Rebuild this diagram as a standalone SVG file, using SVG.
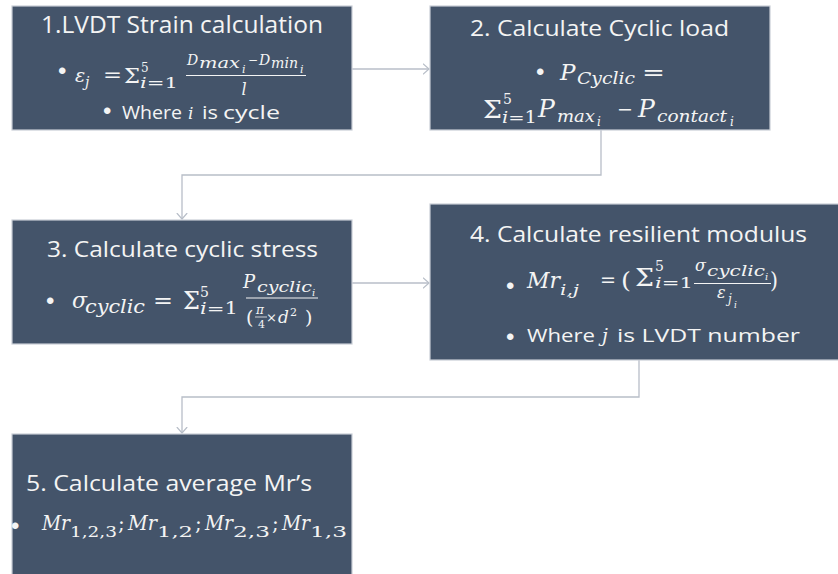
<svg xmlns="http://www.w3.org/2000/svg" width="838" height="574" viewBox="0 0 838 574">
  <style>
    .box { fill: #44546a; stroke: #c9ced6; stroke-width: 1.2; }
    .hd { font-family: "Open Sans", "Noto Sans", "Liberation Sans", sans-serif; fill: #f4f4f4; }
    .bl { font-family: "Liberation Sans", Arial, sans-serif; font-size: 24px; fill: #f4f4f4; }
    .m { font-family: "DejaVu Serif", "Liberation Serif", serif; font-style: italic; fill: #f4f4f4; }
    .u { font-family: "DejaVu Serif", "Liberation Serif", serif; font-style: normal; fill: #f4f4f4; }
    .bar { stroke: #f4f4f4; stroke-width: 1.2; }
    .link { fill: none; stroke: #b8bec8; stroke-width: 1.3; }
  </style>
  <defs>
    <marker id="arrow" viewBox="0 0 7 12" refX="6.5" refY="6" markerWidth="7" markerHeight="12" markerUnits="userSpaceOnUse" orient="auto">
      <path d="M0.5,0.8 L6.5,6 L0.5,11.2" fill="none" stroke="#b8bec8" stroke-width="1.2"/>
    </marker>
  </defs>
  <rect width="838" height="574" fill="#ffffff"/>

  <!-- connectors -->
  <g id="connectors">
    <path class="link" d="M352,69 H429" marker-end="url(#arrow)"/>
    <path class="link" d="M601,130 V175 H182 V219" marker-end="url(#arrow)"/>
    <path class="link" d="M352,283 H429" marker-end="url(#arrow)"/>
    <path class="link" d="M639,360 V397 H182 V433" marker-end="url(#arrow)"/>
  </g>

  <!-- step 1: LVDT strain -->
  <g id="step1">
    <rect class="box" x="12" y="6" width="340" height="124"/>
    <text class="hd" x="41" y="33" font-size="23" textLength="282" lengthAdjust="spacingAndGlyphs">1.LVDT Strain calculation</text>
    <text class="bl" x="58" y="78.5">•</text>
    <text class="m" x="75" y="82" font-size="19">ε</text>
    <text class="m" x="85" y="87" font-size="14">j</text>
    <text class="u" x="103" y="82" font-size="20" textLength="19" lengthAdjust="spacingAndGlyphs">=</text>
    <text class="u" x="124" y="83" font-size="21" textLength="16" lengthAdjust="spacingAndGlyphs">Σ</text>
    <text class="u" x="141" y="72" font-size="12">5</text>
    <text class="u" x="140" y="88" font-size="15" textLength="38" lengthAdjust="spacingAndGlyphs"><tspan class="m">i</tspan>=1</text>
    <text class="m" x="187" y="65" font-size="14">D</text>
    <text class="m" x="199" y="68" font-size="15" textLength="41" lengthAdjust="spacingAndGlyphs">max</text>
    <text class="m" x="242" y="73" font-size="11">i</text>
    <text class="u" x="248" y="64" font-size="12" textLength="10" lengthAdjust="spacingAndGlyphs">−</text>
    <text class="m" x="259" y="65" font-size="14">D</text>
    <text class="m" x="271" y="68" font-size="15" textLength="27" lengthAdjust="spacingAndGlyphs">min</text>
    <text class="m" x="300" y="73" font-size="11">i</text>
    <line class="bar" x1="186" y1="75.5" x2="306" y2="75.5"/>
    <text class="m" x="244" y="95" font-size="16" text-anchor="middle">l</text>
    <text class="bl" x="103" y="119">•</text>
    <text class="hd" x="122" y="119" font-size="18" textLength="60" lengthAdjust="spacingAndGlyphs">Where</text>
    <text class="m" x="188" y="119" font-size="17">i</text>
    <text class="hd" x="202" y="119" font-size="18" textLength="16" lengthAdjust="spacingAndGlyphs">is</text>
    <text class="hd" x="223" y="119" font-size="18" textLength="57" lengthAdjust="spacingAndGlyphs">cycle</text>
  </g>

  <!-- step 2: cyclic load -->
  <g id="step2">
    <rect class="box" x="430" y="6" width="340" height="124"/>
    <text class="hd" x="470" y="36" font-size="22" textLength="259" lengthAdjust="spacingAndGlyphs">2. Calculate Cyclic load</text>
    <text class="bl" x="536" y="79.5">•</text>
    <text class="m" x="560" y="80" font-size="23">P</text>
    <text class="m" x="577" y="84" font-size="16" textLength="58" lengthAdjust="spacingAndGlyphs">Cyclic</text>
    <text class="u" x="642" y="80" font-size="23" textLength="23" lengthAdjust="spacingAndGlyphs">=</text>
    <text class="u" x="483" y="118" font-size="25" textLength="19" lengthAdjust="spacingAndGlyphs">Σ</text>
    <text class="u" x="503" y="104" font-size="14">5</text>
    <text class="u" x="502" y="123" font-size="16" textLength="35" lengthAdjust="spacingAndGlyphs"><tspan class="m">i</tspan>=1</text>
    <text class="m" x="538" y="117" font-size="25">P</text>
    <text class="m" x="557" y="122" font-size="17" textLength="38" lengthAdjust="spacingAndGlyphs">max</text>
    <text class="m" x="597" y="126" font-size="12">i</text>
    <text class="u" x="617" y="116" font-size="20" textLength="16" lengthAdjust="spacingAndGlyphs">−</text>
    <text class="m" x="638" y="117" font-size="25">P</text>
    <text class="m" x="657" y="122" font-size="17" textLength="70" lengthAdjust="spacingAndGlyphs">contact</text>
    <text class="m" x="730" y="126" font-size="12">i</text>
  </g>

  <!-- step 3: cyclic stress -->
  <g id="step3">
    <rect class="box" x="12" y="220" width="340" height="124"/>
    <text class="hd" x="47" y="257" font-size="22" textLength="271" lengthAdjust="spacingAndGlyphs">3. Calculate cyclic stress</text>
    <text class="bl" x="46" y="308.5">•</text>
    <text class="m" x="72" y="308" font-size="22">σ</text>
    <text class="m" x="85" y="313" font-size="18" textLength="60" lengthAdjust="spacingAndGlyphs">cyclic</text>
    <text class="u" x="153" y="308" font-size="23" textLength="20" lengthAdjust="spacingAndGlyphs">=</text>
    <text class="u" x="183" y="309" font-size="25" textLength="17" lengthAdjust="spacingAndGlyphs">Σ</text>
    <text class="u" x="200" y="297" font-size="14">5</text>
    <text class="u" x="200" y="314" font-size="16" textLength="38" lengthAdjust="spacingAndGlyphs"><tspan class="m">i</tspan>=1</text>
    <text class="m" x="243" y="288" font-size="18">P</text>
    <text class="m" x="257" y="292" font-size="15" textLength="55" lengthAdjust="spacingAndGlyphs">cyclic</text>
    <text class="m" x="312" y="296" font-size="10">i</text>
    <line class="bar" x1="246" y1="298" x2="318" y2="298"/>
    <text class="u" x="246" y="324" font-size="19">(</text>
    <text class="m" x="256" y="314" font-size="12">π</text>
    <line x1="255" y1="317" x2="267" y2="317" stroke="#f4f4f4" stroke-width="0.8"/>
    <text class="u" x="258" y="328" font-size="11">4</text>
    <text class="u" x="266" y="322" font-size="13">×</text>
    <text class="m" x="278" y="323" font-size="17">d</text>
    <text class="u" x="290" y="316" font-size="11">2</text>
    <text class="u" x="305" y="324" font-size="19">)</text>
  </g>

  <!-- step 4: resilient modulus -->
  <g id="step4">
    <rect class="box" x="430" y="204" width="416" height="156"/>
    <text class="hd" x="470" y="242" font-size="22" textLength="337" lengthAdjust="spacingAndGlyphs">4. Calculate resilient modulus</text>
    <text class="bl" x="506" y="293.5">•</text>
    <text class="m" x="527" y="288" font-size="22" textLength="33" lengthAdjust="spacingAndGlyphs">Mr</text>
    <text class="m" x="560" y="295" font-size="15" textLength="19" lengthAdjust="spacingAndGlyphs">i,j</text>
    <text class="u" x="600" y="287" font-size="20" textLength="16" lengthAdjust="spacingAndGlyphs">=</text>
    <text class="u" x="621" y="288" font-size="23" textLength="10" lengthAdjust="spacingAndGlyphs">(</text>
    <text class="u" x="635" y="286" font-size="25" textLength="19" lengthAdjust="spacingAndGlyphs">Σ</text>
    <text class="u" x="655" y="271" font-size="14">5</text>
    <text class="u" x="655" y="288" font-size="15" textLength="38" lengthAdjust="spacingAndGlyphs"><tspan class="m">i</tspan>=1</text>
    <text class="m" x="695" y="271" font-size="16">σ</text>
    <text class="m" x="707" y="276" font-size="14" textLength="58" lengthAdjust="spacingAndGlyphs">cyclic</text>
    <text class="m" x="765" y="280" font-size="10">i</text>
    <line class="bar" x1="694" y1="283.5" x2="771" y2="283.5"/>
    <text class="m" x="717" y="298" font-size="16">ε</text>
    <text class="m" x="728" y="303" font-size="12">j</text>
    <text class="m" x="734" y="308" font-size="9">i</text>
    <text class="u" x="770" y="288" font-size="23" textLength="8" lengthAdjust="spacingAndGlyphs">)</text>
    <text class="bl" x="506" y="344.5">•</text>
    <text class="hd" x="527" y="342" font-size="19" textLength="68" lengthAdjust="spacingAndGlyphs">Where</text>
    <text class="m" x="602" y="342" font-size="19">j</text>
    <text class="hd" x="617" y="342" font-size="19" textLength="183" lengthAdjust="spacingAndGlyphs">is LVDT number</text>
  </g>

  <!-- step 5: averages -->
  <g id="step5">
    <rect class="box" x="12" y="434" width="340" height="150"/>
    <text class="hd" x="26" y="491" font-size="21" textLength="286" lengthAdjust="spacingAndGlyphs">5. Calculate average Mr’s</text>
    <text class="bl" x="11" y="533.5">•</text>
    <text class="m" x="42" y="530" font-size="21" textLength="28" lengthAdjust="spacingAndGlyphs">Mr</text>
    <text class="u" x="70" y="537" font-size="15" textLength="47" lengthAdjust="spacingAndGlyphs">1,2,3</text>
    <text class="u" x="118" y="530" font-size="20">;</text>
    <text class="m" x="128" y="530" font-size="21" textLength="29" lengthAdjust="spacingAndGlyphs">Mr</text>
    <text class="u" x="157" y="537" font-size="15" textLength="36" lengthAdjust="spacingAndGlyphs">1,2</text>
    <text class="u" x="195" y="530" font-size="20">;</text>
    <text class="m" x="205" y="530" font-size="21" textLength="28" lengthAdjust="spacingAndGlyphs">Mr</text>
    <text class="u" x="233" y="537" font-size="15" textLength="37" lengthAdjust="spacingAndGlyphs">2,3</text>
    <text class="u" x="272" y="530" font-size="20">;</text>
    <text class="m" x="282" y="530" font-size="21" textLength="28" lengthAdjust="spacingAndGlyphs">Mr</text>
    <text class="u" x="310" y="537" font-size="15" textLength="37" lengthAdjust="spacingAndGlyphs">1,3</text>
  </g>
</svg>
